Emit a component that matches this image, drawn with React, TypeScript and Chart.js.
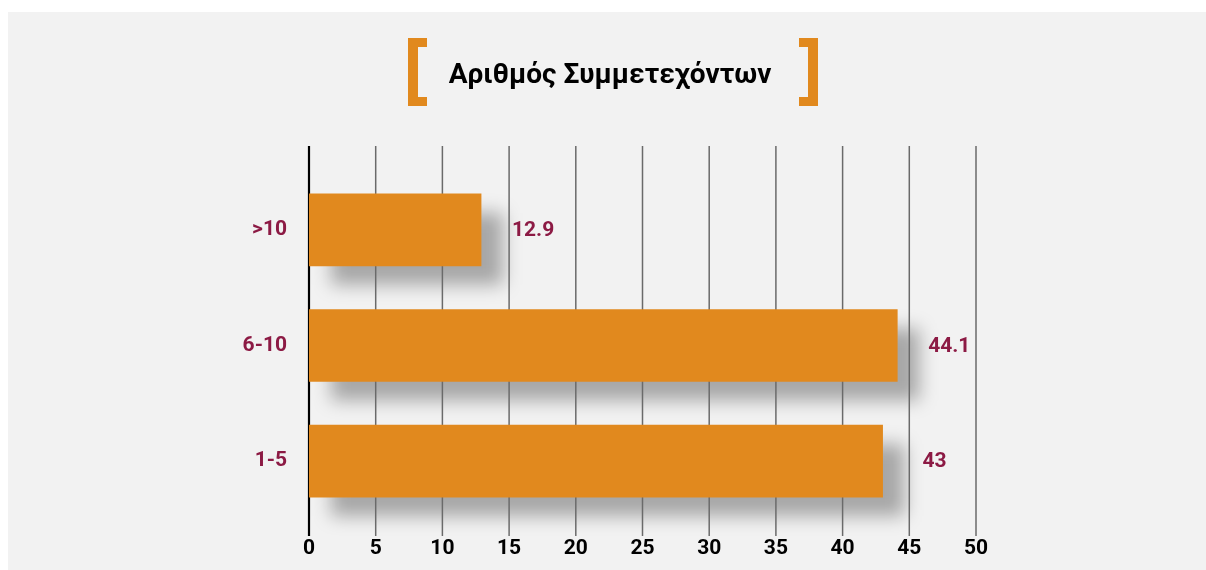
import React, { useEffect, useRef } from "react";
import { Chart, registerables } from "chart.js";

Chart.register(...registerables);

const titleText = "Αριθμός Συμμετεχόντων";
const categories = [">10", "6-10", "1-5"];
const values = [12.9, 44.1, 43];
const valueLabels = ["12.9", "44.1", "43"];
const xMin = 0;
const xMax = 50;
const xStep = 5;

const ORANGE = "#e1891e";
const MAROON = "#8c1a44";
const BG = "#f2f2f2";
const FONT = "Roboto, 'DejaVu Sans', sans-serif";

const decorPlugin = {
  id: "decor",
  beforeDatasetsDraw(chart: any) {
    const ctx = chart.ctx;
    const area = chart.chartArea;
    const xs = chart.scales.x;
    const meta = chart.getDatasetMeta(0);
    // shadows
    ctx.save();
    ctx.filter = "blur(9px)";
    ctx.fillStyle = "rgba(0,0,0,0.31)";
    meta.data.forEach((bar: any) => {
      const p = bar.getProps(["x", "y", "base", "height"], true);
      ctx.fillRect(p.base + 22, p.y - p.height / 2 + 19, p.x - p.base, p.height);
    });
    ctx.restore();
    // grid lines
    ctx.save();
    const top = area.top - 26;
    const bottom = area.bottom + 17;
    ctx.strokeStyle = "#6a6a6a";
    ctx.lineWidth = 1.5;
    for (let v = xMin + xStep; v <= xMax; v += xStep) {
      const px = xs.getPixelForValue(v);
      ctx.beginPath();
      ctx.moveTo(px, top);
      ctx.lineTo(px, bottom);
      ctx.stroke();
    }
    ctx.strokeStyle = "#000";
    ctx.lineWidth = 2.2;
    const x0 = xs.getPixelForValue(xMin);
    ctx.beginPath();
    ctx.moveTo(x0, top);
    ctx.lineTo(x0, bottom);
    ctx.stroke();
    ctx.restore();
  },
  afterDatasetsDraw(chart: any) {
    const ctx = chart.ctx;
    const meta = chart.getDatasetMeta(0);
    ctx.save();
    ctx.fillStyle = MAROON;
    ctx.font = `bold 21px ${FONT}`;
    ctx.textAlign = "center";
    ctx.textBaseline = "middle";
    meta.data.forEach((bar: any, i: number) => {
      const p = bar.getProps(["x", "y"], true);
      ctx.fillText(valueLabels[i], p.x + 52, p.y + 1);
    });
    ctx.restore();
  },
  afterDraw(chart: any) {
    const ctx = chart.ctx;
    ctx.save();
    // title
    ctx.fillStyle = "#000";
    ctx.font = `bold 28px ${FONT}`;
    ctx.textAlign = "center";
    ctx.textBaseline = "alphabetic";
    ctx.fillText(titleText, 602, 71);
    // brackets
    ctx.fillStyle = ORANGE;
    const bTop = 26;
    const bH = 68;
    const stem = 10;
    const serifW = 19;
    const serifH = 9;
    const lx = 400;
    ctx.fillRect(lx, bTop, stem, bH);
    ctx.fillRect(lx, bTop, serifW, serifH);
    ctx.fillRect(lx, bTop + bH - serifH, serifW, serifH);
    const rx = 810;
    ctx.fillRect(rx - stem, bTop, stem, bH);
    ctx.fillRect(rx - serifW, bTop, serifW, serifH);
    ctx.fillRect(rx - serifW, bTop + bH - serifH, serifW, serifH);
    ctx.restore();
  },
};

export default function App() {
  const canvasRef = useRef<HTMLCanvasElement | null>(null);

  useEffect(() => {
    if (!canvasRef.current) return;
    const chart = new Chart(canvasRef.current, {
      type: "bar",
      data: {
        labels: categories,
        datasets: [
          {
            data: values,
            backgroundColor: ORANGE,
            borderWidth: 0,
            barThickness: 72,
          },
        ],
      },
      options: {
        indexAxis: "y",
        responsive: false,
        animation: false,
        layout: { padding: { top: 160, right: 222, bottom: 10, left: 0 } },
        plugins: {
          legend: { display: false },
          tooltip: { enabled: false },
          title: { display: false },
        },
        scales: {
          x: {
            type: "linear",
            min: xMin,
            max: xMax,
            grid: { display: false, drawTicks: false },
            border: { display: false },
            afterFit: (s: any) => {
              s.height = 41;
            },
            ticks: {
              stepSize: xStep,
              padding: 17,
              color: "#000",
              font: { family: FONT, size: 21, weight: "bold" },
            },
          },
          y: {
            grid: { display: false, drawTicks: false },
            border: { display: false },
            afterFit: (s: any) => {
              s.width = 301;
            },
            ticks: {
              padding: 22,
              color: MAROON,
              font: { family: FONT, size: 21, weight: "bold" },
            },
          },
        },
      },
      plugins: [decorPlugin],
    });
    return () => chart.destroy();
  }, []);

  return (
    <div
      style={{
        position: "absolute",
        left: 8,
        top: 12,
        right: 0,
        bottom: 0,
        background: BG,
        overflow: "hidden",
      }}
    >
      <canvas ref={canvasRef} width={1190} height={558} style={{ display: "block" }} />
    </div>
  );
}
